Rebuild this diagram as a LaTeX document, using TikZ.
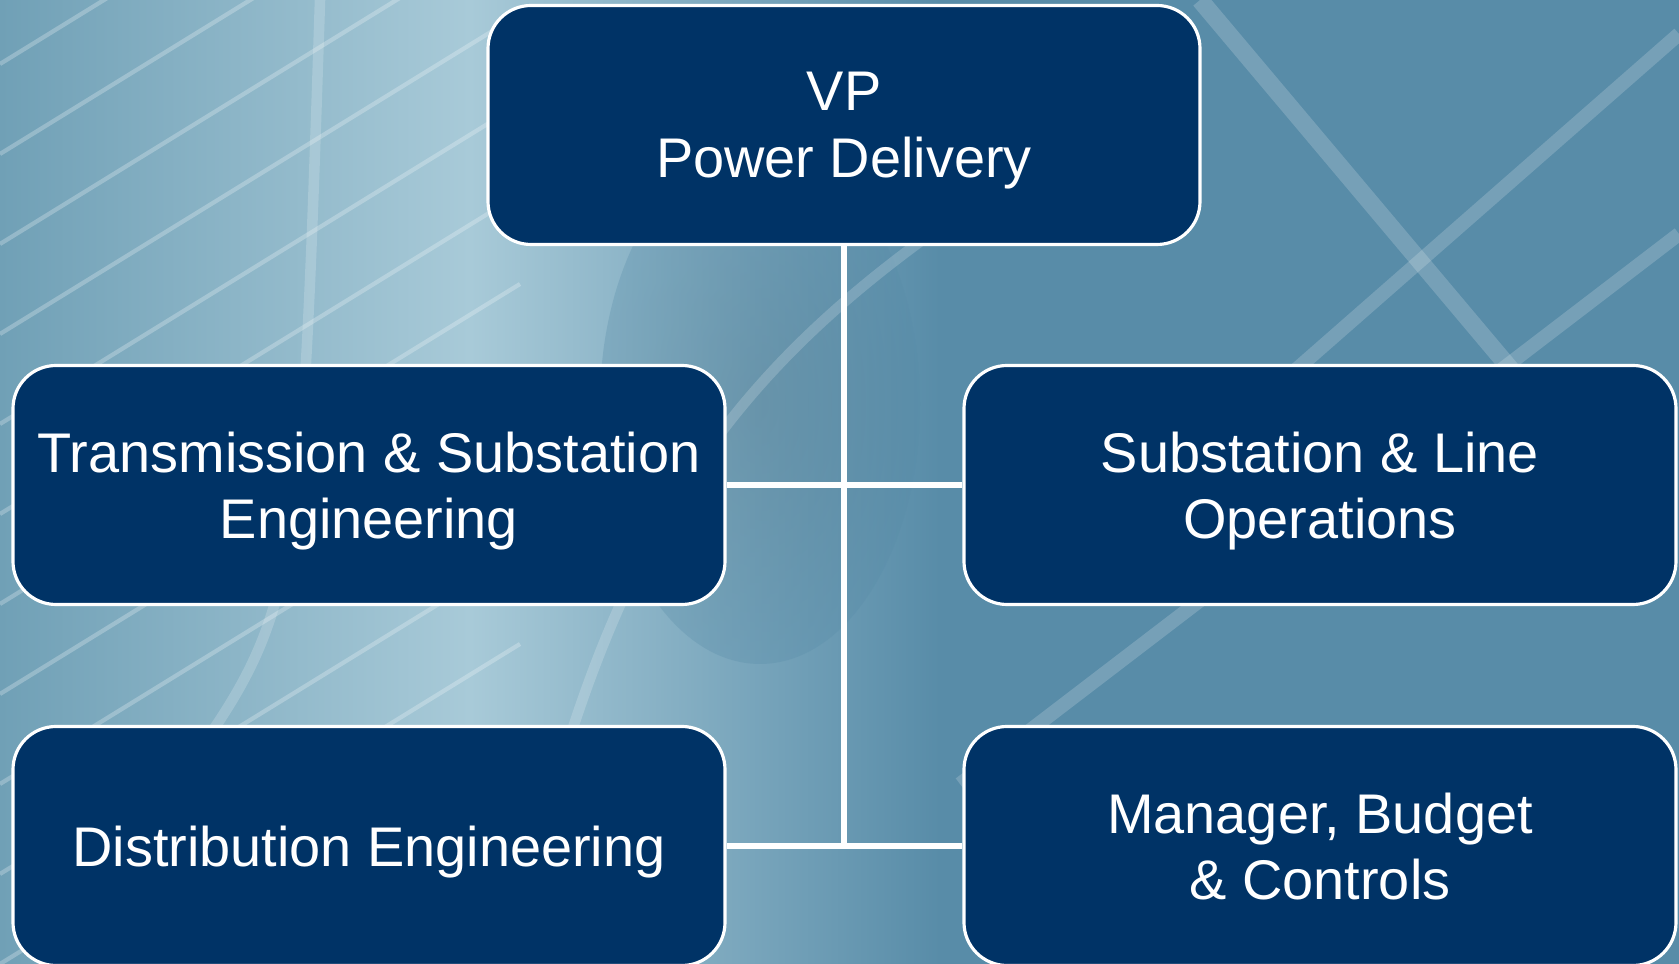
\documentclass[tikz,border=0pt]{standalone}
\usepackage{fontspec}
\setmainfont{Liberation Sans}
\usetikzlibrary{positioning}
\definecolor{navy}{RGB}{0,51,102}
\definecolor{steel}{RGB}{88,140,168}
\definecolor{mist}{RGB}{168,202,216}
\definecolor{haze}{RGB}{112,160,182}
\tikzset{
  unit/.style={draw=white, line width=0.9pt, fill=navy, rounded corners=0.43cm,
    minimum width=7.12cm, minimum height=2.39cm, text=white, align=center,
    font=\fontsize{15.9}{18.9}\selectfont, inner sep=0pt, text depth=0pt},
  link/.style={draw=white, line width=1.8pt},
  streak/.style={white, opacity=0.25, line width=1.2pt}
}
\begin{document}
\begin{tikzpicture}
\useasboundingbox (0,0) rectangle (16.79,9.64);
% background
\shade[left color=haze, right color=steel, middle color=mist] (0,0) rectangle (9.4,9.64);
\fill[steel] (9.4,0) rectangle (16.79,9.64);
\shade[inner color=steel!80!black, outer color=steel, opacity=0.3] (7.6,5.6) ellipse (1.6cm and 2.6cm);
\foreach \y in {0,0.9,...,9} \draw[streak] (0,\y) -- (5.2,\y+3.2);
\draw[streak, line width=5pt, opacity=0.18] (12,9.64) -- (15.4,5.6);
\draw[streak, line width=4pt, opacity=0.18] (11.2,4.4) -- (16.79,9.3);
\draw[streak, line width=4pt, opacity=0.18] (9.6,1.8) -- (16.79,7.3);
\draw[streak, line width=3pt, opacity=0.18] (1.6,1.6) .. controls (3,3.5) .. (3.2,9.64);
\draw[streak, line width=3pt, opacity=0.18] (5.5,1.6) .. controls (6.5,5.2) and (8,6.6) .. (11,8.4);

% units
\node[unit] (vp) at (8.44,8.39) {VP\\Power Delivery};
\node[unit] (tse) at (3.69,4.79) {Transmission \& Substation\\Engineering};
\node[unit] (slo) at (13.2,4.79) {Substation \& Line\\Operations};
\node[unit] (de) at (3.69,1.18) {Distribution Engineering};
\node[unit] (mbc) at (13.2,1.18) {Manager, Budget\\\& Controls};

% connectors
\coordinate (low) at (vp.south |- de.east);
\draw[link] (vp.south) -- (low);
\draw[link] (tse.east) -- (slo.west);
\draw[link] (de.east) -- (mbc.west);
\end{tikzpicture}
\end{document}
